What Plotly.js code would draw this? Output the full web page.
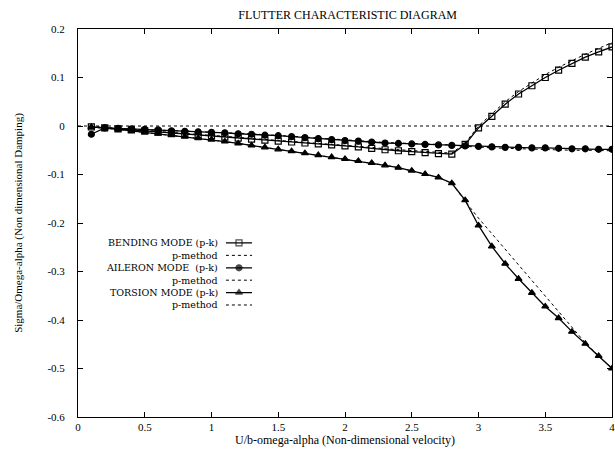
<!DOCTYPE html>
<html><head><meta charset="utf-8">
<script src="https://cdn.plot.ly/plotly-3.0.1.min.js"></script>
<style>html,body{margin:0;padding:0;background:#fff}#c{width:615px;height:449px}</style>
</head><body><div id="c"></div>
<script>
const xVals = [0.1,0.2,0.3,0.4,0.5,0.6,0.7,0.8,0.9,1.0,1.1,1.2,1.3,1.4,1.5,1.6,1.7,1.8,1.9,2.0,2.1,2.2,2.3,2.4,2.5,2.6,2.7,2.8,2.9,3.0,3.1,3.2,3.3,3.4,3.5,3.6,3.7,3.8,3.9,4.0];
const bendingPK = [-0.002,-0.004,-0.006,-0.008,-0.010,-0.012,-0.014,-0.016,-0.018,-0.020,-0.023,-0.025,-0.027,-0.029,-0.031,-0.033,-0.035,-0.037,-0.039,-0.041,-0.043,-0.046,-0.049,-0.051,-0.053,-0.055,-0.057,-0.058,-0.038,-0.004,0.020,0.045,0.066,0.083,0.100,0.115,0.129,0.142,0.153,0.163];
const bendingP = [-0.001,-0.003,-0.005,-0.007,-0.009,-0.011,-0.013,-0.015,-0.017,-0.019,-0.021,-0.023,-0.025,-0.027,-0.029,-0.031,-0.033,-0.035,-0.037,-0.039,-0.041,-0.044,-0.047,-0.049,-0.051,-0.053,-0.055,-0.056,-0.035,0.000,0.025,0.050,0.071,0.089,0.106,0.121,0.135,0.148,0.160,0.172];
const aileronPK = [-0.017,-0.004,-0.005,-0.006,-0.007,-0.008,-0.010,-0.011,-0.012,-0.013,-0.014,-0.016,-0.017,-0.019,-0.020,-0.022,-0.024,-0.026,-0.028,-0.030,-0.031,-0.033,-0.035,-0.036,-0.037,-0.038,-0.039,-0.040,-0.041,-0.042,-0.043,-0.044,-0.044,-0.045,-0.045,-0.046,-0.047,-0.047,-0.048,-0.048];
const aileronP = [-0.003,-0.004,-0.005,-0.006,-0.007,-0.008,-0.009,-0.010,-0.011,-0.012,-0.013,-0.015,-0.016,-0.018,-0.019,-0.021,-0.023,-0.025,-0.027,-0.029,-0.030,-0.032,-0.034,-0.035,-0.036,-0.037,-0.038,-0.039,-0.042,-0.044,-0.045,-0.046,-0.047,-0.048,-0.048,-0.049,-0.050,-0.050,-0.051,-0.051];
const torsionPK = [-0.002,-0.004,-0.007,-0.010,-0.013,-0.016,-0.019,-0.022,-0.025,-0.028,-0.032,-0.036,-0.040,-0.044,-0.048,-0.052,-0.056,-0.060,-0.064,-0.068,-0.072,-0.076,-0.081,-0.086,-0.092,-0.099,-0.106,-0.118,-0.153,-0.205,-0.248,-0.284,-0.315,-0.344,-0.372,-0.396,-0.424,-0.449,-0.474,-0.500];
const torsionP = [-0.001,-0.004,-0.007,-0.010,-0.013,-0.016,-0.019,-0.022,-0.025,-0.028,-0.032,-0.036,-0.040,-0.044,-0.048,-0.052,-0.056,-0.060,-0.064,-0.068,-0.072,-0.076,-0.081,-0.086,-0.092,-0.099,-0.106,-0.118,-0.155,-0.190,-0.222,-0.254,-0.287,-0.320,-0.352,-0.384,-0.416,-0.447,-0.474,-0.500];
const xTickVals = [0,0.5,1,1.5,2,2.5,3,3.5,4];
const xTickText = ["0","0.5","1","1.5","2","2.5","3","3.5","4"];
const yTickVals = [0.2,0.1,0,-0.1,-0.2,-0.3,-0.4,-0.5,-0.6];
const yTickText = ["0.2","0.1","0","-0.1","-0.2","-0.3","-0.4","-0.5","-0.6"];
const legendLabels = ["BENDING MODE (p-k)","p-method","AILERON MODE  (p-k)","p-method","TORSION MODE (p-k)","p-method"];

const FONT = "Liberation Serif, Times New Roman, serif";
const LFONT = "DejaVu Serif, serif";
const series = [
  {y: bendingPK, dash: "solid", sym: "square-open", w: 1.3},
  {y: bendingP, dash: "dot", sym: null, w: 1},
  {y: aileronPK, dash: "solid", sym: "circle", w: 1.3},
  {y: aileronP, dash: "dot", sym: null, w: 1},
  {y: torsionPK, dash: "solid", sym: "triangle-up", w: 1.3},
  {y: torsionP, dash: "dot", sym: null, w: 1}
];
const traces = [];
function mk(s, size) {
  return {symbol: s.sym, size: size, color: "#000", line: {color: "#000", width: 1.2}};
}
series.forEach((s, i) => {
  const t = {
    x: xVals, y: s.y, type: "scatter", mode: s.sym ? "lines+markers" : "lines",
    line: {color: "#000", width: s.w, dash: s.dash},
    showlegend: false, hoverinfo: "skip"
  };
  if (s.sym) t.marker = mk(s, 6);
  traces.push(t);
});
// legend keys on an overlay axis
const keyX = [0, 0.5, 1];
series.forEach((s, i) => {
  const t = {
    x: keyX, y: [i, i, i], xaxis: "x2", yaxis: "y2", type: "scatter",
    mode: s.sym ? "lines+markers" : "lines",
    line: {color: "#000", width: s.w, dash: s.dash},
    showlegend: false, hoverinfo: "skip"
  };
  if (s.sym) t.marker = mk(s, [0, 6, 0]);
  traces.push(t);
});
const annotations = legendLabels.map((t, i) => ({
  text: t, xref: "paper", yref: "y2", x: 0.264, y: i, xanchor: "right", yanchor: "middle",
  borderpad: 0,
  showarrow: false, font: {family: LFONT, size: 9.5, color: "#000"}
}));
const axBase = {showline: true, linecolor: "#000", linewidth: 1, mirror: "ticks", ticks: "inside",
  ticklen: 5, tickcolor: "#000", showgrid: false, zeroline: false, ticklabeloverflow: "allow",
  tickfont: {family: FONT, size: 11, color: "#000"}};
const layout = {
  width: 615, height: 449,
  margin: {l: 78, r: 3, t: 29, b: 32},
  paper_bgcolor: "#fff", plot_bgcolor: "#fff",
  title: {text: "FLUTTER CHARACTERISTIC DIAGRAM", font: {family: FONT, size: 12, color: "#000"},
    x: 0.505, xref: "paper", xanchor: "center", y: 0.968, yanchor: "middle"},
  xaxis: Object.assign({}, axBase, {range: [0, 4], tickvals: xTickVals, ticktext: xTickText,
    title: {text: "U/b-omega-alpha (Non-dimensional velocity)", font: {family: FONT, size: 12, color: "#000"}, standoff: 3}}),
  yaxis: Object.assign({}, axBase, {range: [-0.6, 0.2], tickvals: yTickVals, ticktext: yTickText, ticklabelstandoff: 10,
    title: {text: "Sigma/Omega-alpha (Non dimensional Damping)", font: {family: FONT, size: 11, color: "#000"}, standoff: 22}}),
  xaxis2: {domain: [0.277, 0.326], range: [0, 1], visible: false, fixedrange: true, anchor: "y2"},
  yaxis2: {domain: [0.2727, 0.4645], range: [5.5, -0.5], visible: false, fixedrange: true, anchor: "x2"},
  shapes: [{type: "line", xref: "paper", x0: 0, x1: 1, yref: "y", y0: 0, y1: 0,
    line: {color: "#000", width: 1, dash: "dot"}, layer: "below"}],
  annotations: annotations,
  showlegend: false
};
Plotly.newPlot("c", traces, layout, {staticPlot: true, displayModeBar: false});
</script></body></html>
